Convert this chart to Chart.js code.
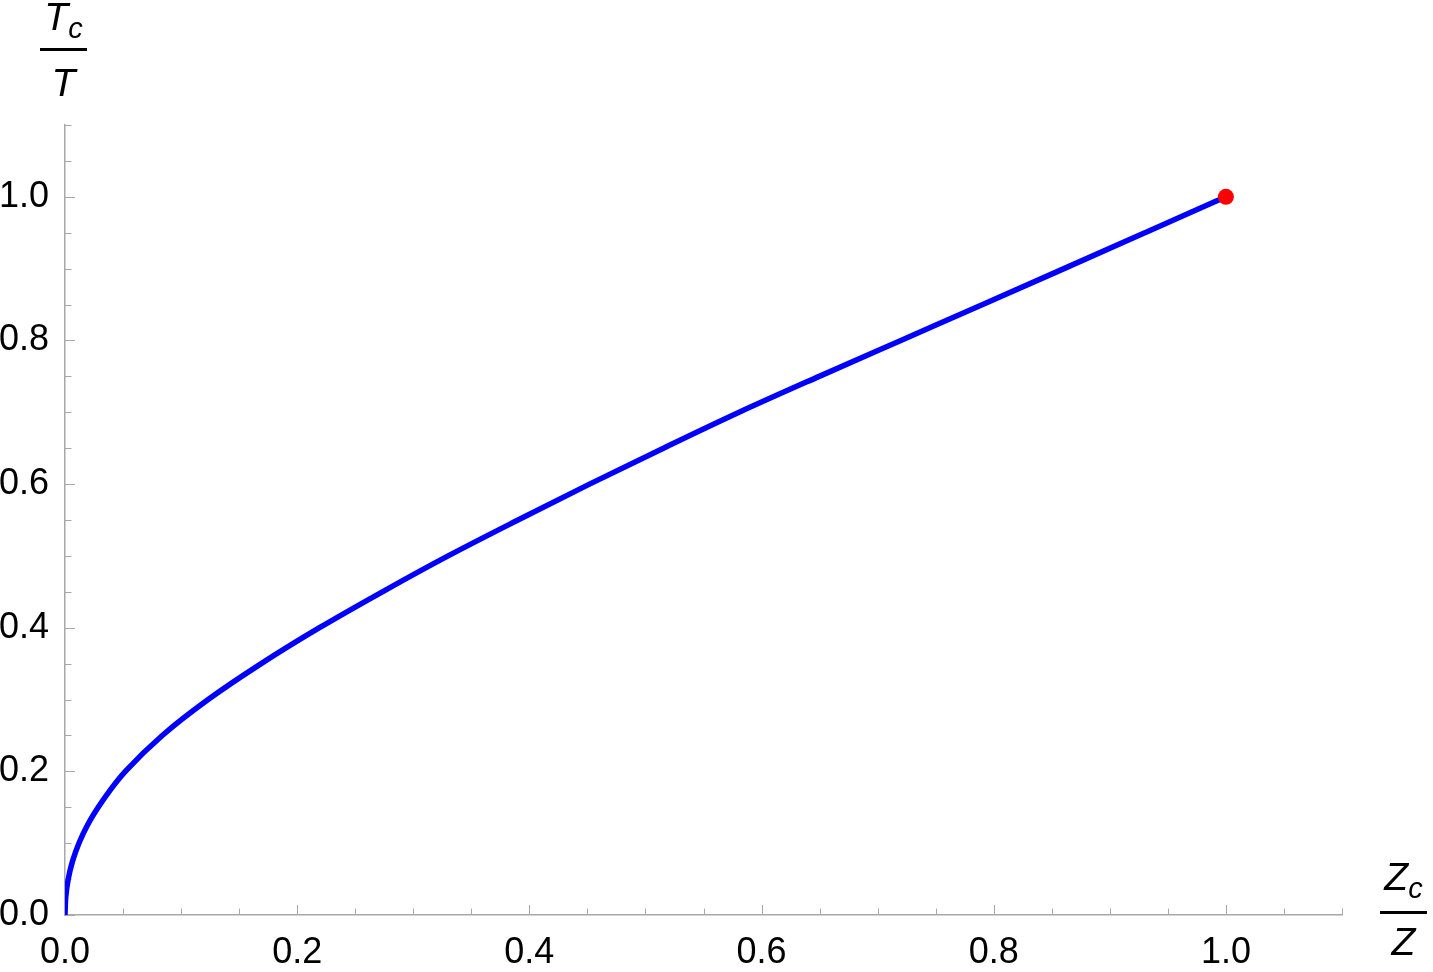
<!DOCTYPE html>
<html>
<head>
<meta charset="utf-8">
<script src="https://cdn.jsdelivr.net/npm/chart.js@4.4.1/dist/chart.umd.min.js"></script>
<style>
  html, body { margin: 0; padding: 0; background: #fff; }
  #wrap { position: relative; width: 1433px; height: 972px; overflow: hidden; }
  #chart { position: absolute; left: 0; top: 0; }
  .lbl { position: absolute; width: 47px; text-align: center; font-family: "Liberation Sans", Arial, sans-serif;
         font-style: italic; font-size: 39px; line-height: 39px; color: #000; white-space: nowrap; }
  .lbl sub { font-size: 29px; vertical-align: -8px; line-height: 0; }
  .bar { position: absolute; width: 47px; height: 3px; background: #000; }
</style>
</head>
<body>
<div id="wrap">
  <canvas id="chart" width="1433" height="972"></canvas>
  <!-- y axis title: Tc / T -->
  <div class="lbl" style="left:40px; top:-3px;">T<sub>c</sub></div>
  <div class="bar" style="left:40px; top:48px;"></div>
  <div class="lbl" style="left:40px; top:63px;">T</div>
  <!-- x axis title: Zc / Z -->
  <div class="lbl" style="left:1380px; top:857px;">Z<sub>c</sub></div>
  <div class="bar" style="left:1380px; top:911px;"></div>
  <div class="lbl" style="left:1380px; top:922px;">Z</div>
</div>
<script>
// curve: Tc/T levels and the Zc/Z where the curve crosses them
const tRatio = [0, 0.025, 0.05, 0.075, 0.10, 0.125, 0.15, 0.175, 0.20, 0.25, 0.30, 0.35, 0.40, 0.45,
                0.50, 0.55, 0.60, 0.65, 0.70, 0.75, 0.80, 0.85, 0.90, 0.95, 1.0];
const zRatio = [0, 0.00066, 0.0028, 0.0065, 0.012, 0.0193, 0.0286, 0.0394, 0.052, 0.0838, 0.1233, 0.169, 0.2192, 0.2734,
                0.33, 0.3902, 0.4518, 0.5155, 0.5807, 0.6497, 0.72, 0.7905, 0.8605, 0.9303, 1.0];

// critical point marker
const critX = [1.0];
const critY = [1.0];

// axis ticks
const majorTicks = [0, 0.2, 0.4, 0.6, 0.8, 1.0];
const minorTicks = [0.05, 0.1, 0.15, 0.25, 0.3, 0.35, 0.45, 0.5, 0.55, 0.65, 0.7, 0.75, 0.85, 0.9, 0.95, 1.05, 1.1];

const axisGray = "#a8a8a8";
const tickFont = { family: "'Liberation Sans', Arial, sans-serif", size: 36 };

// Mathematica-style ticks drawn inward from the axes
const inwardTicks = {
  id: "inwardTicks",
  beforeDatasetsDraw(chart) {
    const { ctx, scales: { x, y } } = chart;
    const x0 = x.getPixelForValue(0);
    const y0 = y.getPixelForValue(0);
    ctx.save();
    ctx.strokeStyle = axisGray;
    ctx.lineWidth = 1;
    const draw = (vals, len) => {
      vals.forEach((v) => {
        const px = Math.round(x.getPixelForValue(v)) + 0.5;
        ctx.beginPath();
        ctx.moveTo(px, y0);
        ctx.lineTo(px, y0 - len);
        ctx.stroke();
        const py = Math.round(y.getPixelForValue(v)) + 0.5;
        ctx.beginPath();
        ctx.moveTo(x0, py);
        ctx.lineTo(x0 + len, py);
        ctx.stroke();
      });
    };
    draw(majorTicks, 10);
    draw(minorTicks, 6.5);
    ctx.restore();
  },
};

const ctx = document.getElementById("chart").getContext("2d");

new Chart(ctx, {
  type: "line",
  data: {
    datasets: [
      {
        label: "critical",
        data: critX.map((v, i) => ({ x: v, y: critY[i] })),
        showLine: false,
        pointRadius: 8,
        pointBackgroundColor: "#ff0000",
        pointBorderWidth: 0,
        order: 0,
      },
      {
        label: "Tc/T",
        data: zRatio.map((v, i) => ({ x: v, y: tRatio[i] })),
        borderColor: "#0000ff",
        borderWidth: 5.5,
        pointRadius: 0,
        cubicInterpolationMode: "monotone",
        fill: false,
        order: 1,
      },
    ],
  },
  options: {
    indexAxis: "y",
    responsive: false,
    animation: false,
    events: [],
    layout: { padding: { top: 125, right: 91, left: 0, bottom: 0 } },
    plugins: {
      legend: { display: false },
      tooltip: { enabled: false },
    },
    scales: {
      x: {
        type: "linear",
        position: "bottom",
        min: 0,
        max: 1.1,
        afterFit: (scale) => { scale.height = 57; },
        afterBuildTicks: (scale) => { scale.ticks = majorTicks.map((v) => ({ value: v })); },
        grid: { display: false, drawTicks: false },
        border: { display: true, color: axisGray, width: 1.5 },
        ticks: {
          color: "#000",
          font: tickFont,
          padding: 16,
          maxRotation: 0,
          autoSkip: false,
          callback: (v) => Number(v).toFixed(1),
        },
      },
      y: {
        type: "linear",
        position: "left",
        reverse: false,
        min: 0,
        max: 1.1,
        afterFit: (scale) => { scale.width = 65; },
        afterBuildTicks: (scale) => { scale.ticks = majorTicks.map((v) => ({ value: v })); },
        grid: { display: false, drawTicks: false },
        border: { display: true, color: axisGray, width: 1.5 },
        ticks: {
          color: "#000",
          font: tickFont,
          padding: 16,
          autoSkip: false,
          callback: (v) => Number(v).toFixed(1),
        },
      },
    },
  },
  plugins: [inwardTicks],
});
</script>
</body>
</html>
